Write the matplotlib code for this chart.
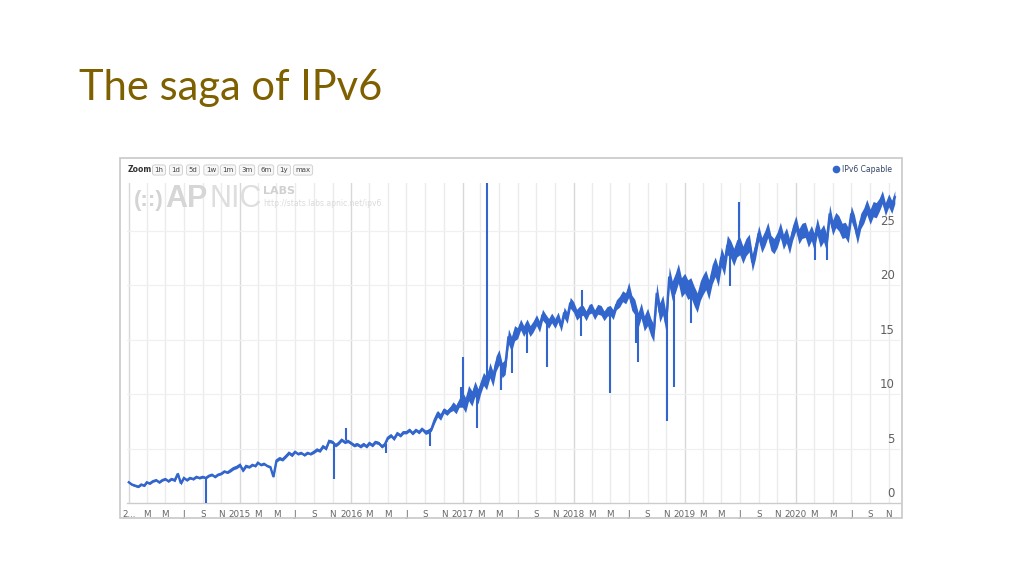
import datetime as dt

import matplotlib
matplotlib.use("Agg")
import matplotlib.pyplot as plt
import matplotlib.transforms as mtransforms
from matplotlib.lines import Line2D
from matplotlib.patches import Rectangle

v2014 = [1.9, 1.7, 1.6, 1.5, 1.7, 1.6, 1.9, 1.8, 2.0, 2.1, 1.9, 2.1,
         2.2, 2.0, 2.2, 2.1, 2.7, 1.8, 2.3, 2.1, 2.3, 2.2, 2.4, 2.3,
         2.4, 2.3, 2.5, 2.6, 2.4, 2.6, 2.7, 2.9, 2.8, 3.0, 3.2, 3.3]
v2015 = [3.5, 3.0, 3.4, 3.3, 3.5, 3.4, 3.7, 3.5, 3.6, 3.4, 3.3, 2.4,
         3.9, 4.1, 4.0, 4.3, 4.6, 4.4, 4.7, 4.5, 4.6, 4.4, 4.6, 4.5,
         4.7, 4.9, 4.8, 5.2, 5.0, 5.7, 5.6, 5.3, 5.5, 5.8, 5.6, 5.7]
v2016 = [5.5, 5.3, 5.4, 5.2, 5.4, 5.2, 5.5, 5.3, 5.6, 5.5, 5.2, 5.4,
         6.0, 6.2, 5.9, 6.4, 6.2, 6.5, 6.5, 6.7, 6.4, 6.7, 6.5, 6.8,
         6.5, 6.6, 6.8, 7.6, 8.2, 7.9, 8.5, 8.3, 8.6, 8.9, 8.6, 9.2]
v2017 = [9.5, 9.0, 10.1, 9.6, 10.5, 9.8, 10.6, 11.4, 11.0, 12.2, 11.4, 12.8,
         13.4, 12.2, 12.5, 15.3, 14.6, 15.6, 15.6, 16.4, 15.8, 16.4, 15.8, 16.2,
         16.8, 16.2, 17.3, 16.9, 16.5, 17.0, 16.5, 17.1, 16.2, 17.5, 17.0, 18.4]
v2018 = [18.0, 17.3, 17.6, 17.7, 17.2, 17.8, 17.9, 17.3, 17.8, 17.7, 17.2, 17.6,
         17.7, 17.3, 18.2, 18.5, 19.0, 18.8, 19.6, 18.4, 18.0, 16.8, 17.7, 16.5,
         17.1, 16.2, 15.6, 19.3, 17.5, 18.2, 16.5, 20.8, 19.5, 20.2, 21.1, 19.8]
v2019 = [20.2, 19.6, 19.8, 19.0, 18.4, 19.5, 20.0, 20.5, 19.6, 21.0, 21.7, 20.8,
         22.6, 21.8, 23.7, 23.3, 22.6, 23.4, 23.6, 22.8, 23.5, 23.9, 22.1, 23.2,
         24.8, 23.7, 24.3, 25.1, 23.9, 23.6, 24.2, 25.1, 24.0, 24.6, 23.6, 24.8]
v2020 = [25.7, 24.5, 25.0, 25.1, 24.2, 24.8, 24.0, 25.4, 24.3, 24.8, 23.9, 26.6,
         25.3, 26.0, 25.7, 25.0, 25.1, 24.6, 26.6, 25.8, 24.5, 25.9, 26.4, 27.2,
         26.3, 27.0, 26.9, 27.4, 28.1, 27.0, 27.8, 27.2, 28.1]
yearly = {2014: v2014, 2015: v2015, 2016: v2016, 2017: v2017,
          2018: v2018, 2019: v2019, 2020: v2020}

# half-width of the day-to-day jitter band, per month
w2014 = [0.1, 0.1, 0.1, 0.1, 0.1, 0.15, 0.1, 0.1, 0.1, 0.1, 0.1, 0.15]
w2015 = [0.15, 0.1, 0.1, 0.1, 0.15, 0.15, 0.1, 0.1, 0.15, 0.15, 0.15, 0.15]
w2016 = [0.15, 0.15, 0.15, 0.15, 0.15, 0.15, 0.15, 0.15, 0.2, 0.3, 0.25, 0.4]
w2017 = [0.7, 0.7, 0.6, 0.7, 0.7, 0.7, 0.5, 0.5, 0.5, 0.45, 0.45, 0.5]
w2018 = [0.5, 0.45, 0.45, 0.45, 0.45, 0.5, 0.7, 0.7, 0.8, 0.9, 0.9, 0.9]
w2019 = [0.9, 0.9, 0.9, 0.9, 0.9, 0.8, 0.8, 0.8, 0.7, 0.7, 0.7, 0.7]
w2020 = [0.7, 0.7, 0.8, 0.8, 0.7, 0.7, 0.7, 0.7, 0.7, 0.6, 0.6]
jitter = {2014: w2014, 2015: w2015, 2016: w2016, 2017: w2017,
          2018: w2018, 2019: w2019, 2020: w2020}

# one-day spikes: date, level around it, tip
spike_dates = ["2014-09-10", "2015-11-07", "2015-12-14", "2016-04-25", "2016-09-16",
               "2016-12-28", "2017-01-01", "2017-02-16", "2017-03-24", "2017-05-08",
               "2017-06-14", "2017-08-02", "2017-10-05", "2018-01-26", "2018-01-30",
               "2018-05-01", "2018-07-26", "2018-07-30", "2018-11-04", "2018-11-26",
               "2019-01-23", "2019-05-28", "2019-06-27", "2020-03-04", "2020-04-12"]
spike_base = [2.4, 5.5, 5.8, 5.4, 6.6, 9.0, 9.5, 9.8, 11.5, 13.0,
              15.0, 16.2, 17.0, 17.5, 17.5, 17.6, 18.0, 17.0, 18.0, 19.0,
              19.5, 23.0, 23.5, 24.5, 24.5]
spike_tip = [0.0, 2.2, 6.9, 4.6, 5.2, 10.7, 13.4, 6.9, 30.0, 10.4,
             11.9, 13.8, 12.5, 15.3, 19.6, 10.1, 14.7, 13.0, 7.5, 10.7,
             16.5, 19.9, 27.7, 22.3, 22.3]

y_ticks = [0, 5, 10, 15, 20, 25]
month_letters = ["M", "M", "J", "S", "N"]
zoom_buttons = ["1h", "1d", "5d", "1w", "1m", "3m", "6m", "1y", "max"]

dates, values, lows, highs = [], [], [], []
for yr, vals in yearly.items():
    for i, v in enumerate(vals):
        w = jitter[yr][i // 3]
        dates.append(dt.date(yr, i // 3 + 1, [1, 11, 21][i % 3]))
        values.append(v)
        lows.append(v - w)
        highs.append(v + w)
spikes = [dt.date.fromisoformat(s) for s in spike_dates]

W, H = 1024, 576


def fx(x):
    return x / W


def fy(y):
    return 1 - y / H


fig = plt.figure(figsize=(10.24, 5.76), dpi=100)
fig.patch.set_facecolor("white")

# slide title
fig.text(fx(79), fy(100), "The saga of IPv6", fontsize=30, color="#7f6000",
         family="Lato", ha="left", va="baseline")

# screenshot frame
fig.add_artist(Rectangle((fx(120), fy(518)), fx(902) - fx(120), fy(158) - fy(518),
                         transform=fig.transFigure, fill=False, ec="#c8c8c8", lw=1.2))

ax = fig.add_axes([fx(127), fy(503), fx(900) - fx(127), fy(183) - fy(503)])
blue = "#3366cc"

# gridlines: every two months, years a bit darker
tick_dates, tick_labels = [], []
for yr in range(2014, 2021):
    for k, m in enumerate([1, 3, 5, 7, 9, 11]):
        d = dt.date(yr, m, 1)
        tick_dates.append(d)
        if k == 0:
            tick_labels.append("2..." if yr == 2014 else str(yr))
        else:
            tick_labels.append(month_letters[k - 1])
        ax.axvline(d, color="#d8d8d8" if m == 1 else "#ebebeb", lw=1.0, zorder=0)
for t in y_ticks[1:]:
    ax.axhline(t, color="#f0f0f0", lw=0.9, zorder=0)

ax.fill_between(dates, lows, highs, color=blue, lw=0, zorder=2)
ax.plot(dates, values, color=blue, lw=1.7, solid_joinstyle="miter", zorder=3)
ax.vlines(spikes, spike_base, spike_tip, color=blue, lw=1.5, zorder=3)

ax.set_xlim(dt.date(2013, 12, 26), dt.date(2020, 12, 8))
ax.set_ylim(0, 29.4)
ax.set_xticks(tick_dates)
ax.set_xticklabels(tick_labels)
ax.tick_params(axis="x", length=0, pad=5, labelsize=6.3, labelcolor="#666666")
ax.set_yticks([])
for s in ["top", "left", "right"]:
    ax.spines[s].set_visible(False)
ax.spines["bottom"].set_color("#cccccc")
ax.spines["bottom"].set_linewidth(1.0)

# y labels sit inside the plot, just above their gridlines
trans = mtransforms.offset_copy(
    mtransforms.blended_transform_factory(ax.transAxes, ax.transData),
    fig=fig, y=3, units="dots")
for t in y_ticks:
    ax.text(0.993, t, str(t), transform=trans, ha="right", va="bottom",
            fontsize=8.5, color="#606060", zorder=4)

# zoom buttons
fig.text(fx(128), fy(170), "Zoom:", fontsize=5.5, fontweight="bold",
         color="#333333", va="center", ha="left")
bx = [159, 176, 193, 211, 228, 247, 266, 284, 303]
for x, lab in zip(bx, zoom_buttons):
    fig.text(fx(x), fy(170), lab, fontsize=5, color="#444444", ha="center", va="center",
             bbox=dict(boxstyle="round,pad=0.3", fc="#f7f7f7", ec="#cccccc", lw=0.6))

# watermark
fig.text(fx(134), fy(206), "(::)", fontsize=16, color="#d4d4d4", family="Liberation Sans",
         fontweight="bold", ha="left", va="baseline", zorder=1)
fig.text(fx(165), fy(207), "AP", fontsize=22, color="#d6d6d6", family="Liberation Sans",
         fontweight="bold", ha="left", va="baseline", zorder=1)
fig.text(fx(209), fy(207), "NIC", fontsize=22, color="#dedede", family="Liberation Sans",
         ha="left", va="baseline", zorder=1)
fig.text(fx(263), fy(194), "LABS", fontsize=8, color="#d0d0d0", fontweight="bold",
         ha="left", va="baseline")
fig.text(fx(263), fy(206), "http://stats.labs.apnic.net/ipv6", fontsize=5.5, color="#dadada",
         ha="left", va="baseline")

# legend
fig.add_artist(Line2D([fx(836)], [fy(169)], marker="o", ms=4.5, color=blue,
                      transform=fig.transFigure))
fig.text(fx(842), fy(169), "IPv6 Capable", fontsize=5.5, color="#334466",
         ha="left", va="center")

fig.savefig("out.png", dpi=100)
